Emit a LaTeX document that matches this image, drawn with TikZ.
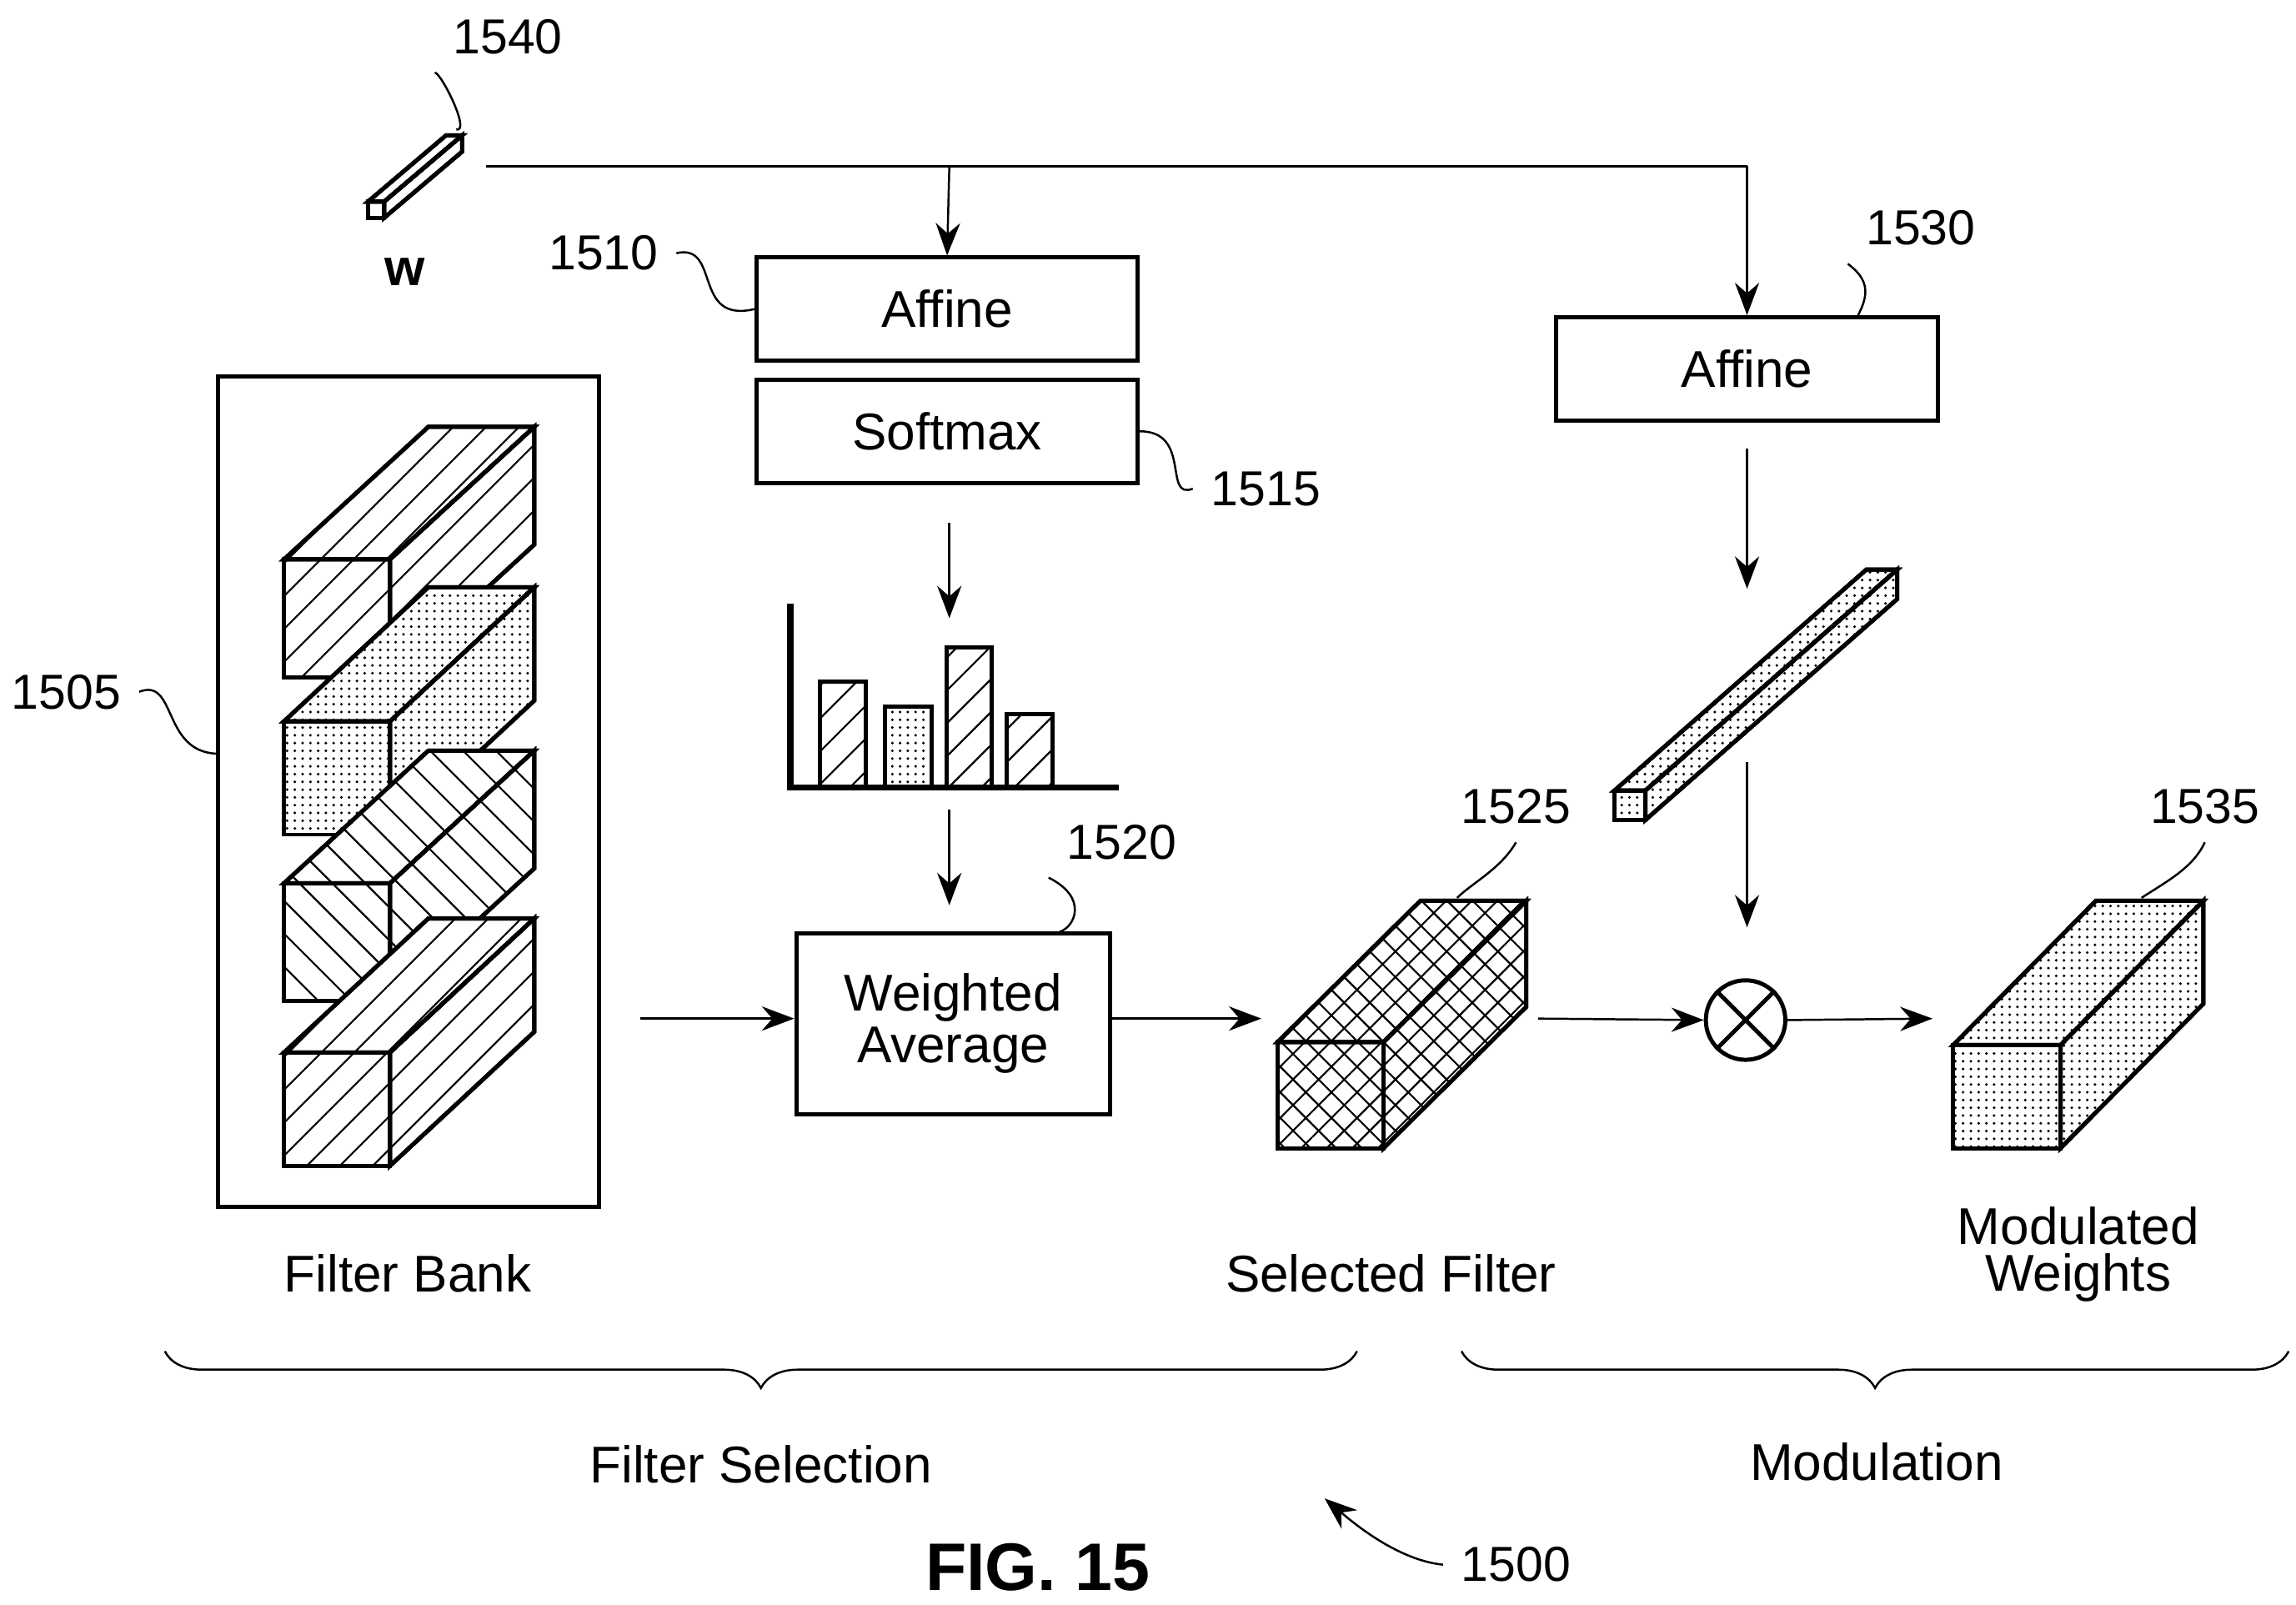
\documentclass[tikz,border=0pt]{standalone}
\usepackage{fontspec}
\setmainfont{Liberation Sans}
\usetikzlibrary{patterns.meta,decorations.pathreplacing,arrows.meta}
\tikzset{
  blk/.style={draw,thick,minimum width=2.59cm,minimum height=0.70cm,font=\fontsize{10}{12}\selectfont},
  num/.style={font=\fontsize{9.5}{11}\selectfont},
  lbl/.style={font=\fontsize{10}{11}\selectfont,align=center},
  flow/.style={-{Stealth[length=2.2mm]},thin},
  lead/.style={thin},
  ne/.style={pattern={Lines[angle=45,distance=4.5pt,line width=0.35pt]}},
  nw/.style={pattern={Lines[angle=-45,distance=4.5pt,line width=0.35pt]}},
  dt/.style={pattern={Dots[distance=1.5pt,radius=0.28pt]}},
  ch/.style={pattern={Hatch[angle=45,distance=3.5pt,line width=0.35pt]}},
  none/.style={},
}
% cuboid: x, y, w, h, dx, dy, pattern style
\newcommand{\cuboid}[7]{%
  \filldraw[thick,fill=white] (#1,#2) rectangle ++(#3,#4);
  \filldraw[thick,fill=white] (#1,#2+#4)--++(#5,#6)--++(#3,0)--(#1+#3,#2+#4)--cycle;
  \filldraw[thick,fill=white] (#1+#3,#2)--++(#5,#6)--++(0,#4)--(#1+#3,#2+#4)--cycle;
  \draw[thick,#7] (#1,#2) rectangle ++(#3,#4);
  \draw[thick,#7] (#1,#2+#4)--++(#5,#6)--++(#3,0)--(#1+#3,#2+#4)--cycle;
  \draw[thick,#7] (#1+#3,#2)--++(#5,#6)--++(0,#4)--(#1+#3,#2+#4)--cycle;
}
\begin{document}
\begin{tikzpicture}
\useasboundingbox (0,0) rectangle (15.6,10.9);

% input vector
\cuboid{2.50}{9.42}{0.11}{0.11}{0.53}{0.45}{none}
\node[font=\bfseries\fontsize{10}{12}\selectfont] (w) at (2.75,9.05) {w};
\node[num] (n1540) at (3.45,10.65) {1540};
\draw[lead] (n1540.south west) .. controls (3.0,10.4) and (3.2,10.0) .. (3.10,10.02);
\coordinate (src) at (3.30,9.77);
\coordinate (tapA) at (6.45,9.77);
\coordinate (tapB) at (11.87,9.77);
\draw[thin] (src) -- (tapB);

% left branch
\node[blk] (aff1) at (6.435,8.80) {Affine};
\node[blk] (soft) at (6.435,7.97) {Softmax};
\draw[flow] (tapA) -- (aff1.north);
\node[num] (n1510) at (4.10,9.18) {1510};
\draw[lead] (n1510.east) .. controls (4.9,9.25) and (4.7,8.7) .. (aff1.west);
\node[num] (n1515) at (8.60,7.58) {1515};
\draw[lead] (soft.east) .. controls (8.1,7.97) and (7.9,7.5) .. (n1515.west);

% bar chart
\draw[flow] (6.45,7.35) -- (6.45,6.70);
\draw[very thick] (5.37,6.80) -- (5.37,5.55) -- (7.60,5.55);
\draw[thick,ne] (5.57,5.55) rectangle (5.88,6.27);
\draw[thick,dt] (6.01,5.55) rectangle (6.33,6.10);
\draw[thick,ne] (6.43,5.55) rectangle (6.74,6.50);
\draw[thick,ne] (6.84,5.55) rectangle (7.15,6.05);
\draw[flow] (6.45,5.40) -- (6.45,4.75);

\node[blk,minimum width=2.13cm,minimum height=1.23cm,align=center] (wavg) at (6.475,3.945) {Weighted\\[-2pt]Average};
\node[num] (n1520) at (7.62,5.18) {1520};
\draw[lead] (n1520.south west) .. controls (7.4,4.8) and (7.3,4.6) .. (7.20,4.57);

% filter bank
\node[draw,thick,minimum width=2.59cm,minimum height=5.64cm] (bank) at (2.775,5.52) {};
\cuboid{1.93}{6.30}{0.72}{0.80}{0.98}{0.90}{ne}
\cuboid{1.93}{5.23}{0.72}{0.77}{0.98}{0.91}{dt}
\cuboid{1.93}{4.10}{0.72}{0.80}{0.98}{0.90}{nw}
\cuboid{1.93}{2.98}{0.72}{0.77}{0.98}{0.91}{ne}
\node[num] (n1505) at (0.45,6.20) {1505};
\draw[lead] (n1505.east) .. controls (1.2,6.3) and (1.1,5.8) .. (bank.west |- 0,5.78);
\node[lbl] (fbank) at (2.77,2.25) {Filter Bank};

\draw[flow] (4.35,3.98) -- (wavg.west |- 0,3.98);
\draw[flow] (wavg.east |- 0,3.98) -- (8.57,3.98);

% selected filter
\cuboid{8.68}{3.10}{0.72}{0.72}{0.97}{0.96}{ch}
\node[num] (n1525) at (10.30,5.42) {1525};
\draw[lead] (n1525.south) .. controls (10.2,5.0) and (10.0,4.9) .. (9.90,4.80);
\node[lbl] (sel) at (9.45,2.25) {Selected Filter};

% right branch
\node[blk] (aff2) at (11.87,8.395) {Affine};
\draw[flow] (tapB) -- (aff2.north);
\node[num] (n1530) at (13.05,9.35) {1530};
\draw[lead] (n1530.south west) .. controls (12.7,9.0) and (12.7,8.9) .. (12.62,8.75);
\draw[flow] (aff2.south |- 0,7.85) -- (11.87,6.90);
\cuboid{10.97}{5.33}{0.21}{0.20}{1.71}{1.50}{dt}
\draw[flow] (11.87,5.72) -- (11.87,4.60);
\node[draw,thick,circle,minimum size=0.54cm,inner sep=0pt] (mul) at (11.86,3.97) {};
\draw[thick] (mul.north west) -- (mul.south east) (mul.north east) -- (mul.south west);
\draw[flow] (10.45,3.98) -- (mul.west);
\draw[flow] (mul.east) -- (13.13,3.98);

% modulated weights
\cuboid{13.27}{3.10}{0.73}{0.70}{0.97}{0.98}{dt}
\node[num] (n1535) at (14.98,5.42) {1535};
\draw[lead] (n1535.south) .. controls (14.9,5.0) and (14.7,4.9) .. (14.55,4.80);
\node[lbl] (mod) at (14.12,2.38) {Modulated\\[-2pt]Weights};

% braces
\draw[thin,decorate,decoration={brace,mirror,amplitude=0.25cm}] (1.12,1.72) -- (9.22,1.72);
\node[lbl] (fsel) at (5.17,0.95) {Filter Selection};
\draw[thin,decorate,decoration={brace,mirror,amplitude=0.25cm}] (9.93,1.72) -- (15.55,1.72);
\node[lbl] (modl) at (12.75,0.97) {Modulation};

\node[font=\bfseries\fontsize{13}{15}\selectfont] (fig) at (7.05,0.25) {FIG. 15};
\node[num] (n1500) at (10.30,0.27) {1500};
\draw[-{Stealth[length=2.2mm]},thin] (n1500.west) .. controls (9.5,0.3) and (9.2,0.55) .. (9.00,0.72);
\end{tikzpicture}
\end{document}
